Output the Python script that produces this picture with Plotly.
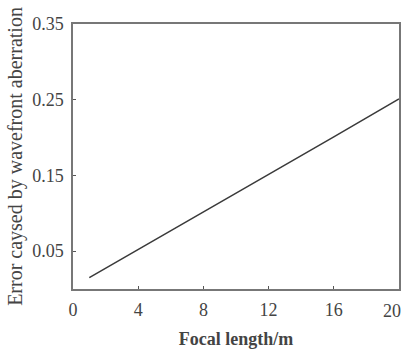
import plotly.graph_objects as go

focal_length = [1, 4, 8, 12, 16, 20]
error = [0.015, 0.052, 0.102, 0.151, 0.201, 0.251]
x_ticks = [0, 4, 8, 12, 16, 20]
x_ticktext = ["0", "4", "8", "12", "16", ""]
last_x_label = "20"
y_ticks = [0.05, 0.15, 0.25, 0.35]

fig = go.Figure()
fig.add_trace(go.Scatter(x=focal_length, y=error, mode="lines",
                         line=dict(color="#3a3a3a", width=1.5), showlegend=False))

fam = "Liberation Serif, Times New Roman, serif"
tick_font = dict(family=fam, size=18, color="#444444")
fig.add_annotation(text=last_x_label, xref="paper", yref="paper", x=1, y=0,
                   xanchor="right", yanchor="top", xshift=4, yshift=-10,
                   showarrow=False, font=tick_font)
fig.update_layout(
    width=403, height=349,
    margin=dict(l=73, r=4, t=24, b=60),
    paper_bgcolor="white", plot_bgcolor="white",
    font=tick_font,
    xaxis=dict(range=[0, 20], tickvals=x_ticks, ticktext=x_ticktext, ticks="inside", ticklen=3,
               tickcolor="#555", showgrid=False, zeroline=False,
               showline=True, linecolor="#777", linewidth=1.5, mirror=True,
               tickfont=tick_font, automargin=False,
               ticklabelstandoff=4,
               title=dict(text="<b>Focal length/m</b>",
                          font=dict(family=fam, size=18, color="#444"), standoff=14)),
    yaxis=dict(range=[0, 0.35], tickvals=y_ticks, tickformat=".2f", ticks="inside",
               ticklen=3, tickcolor="#555", showgrid=False, zeroline=False,
               showline=True, linecolor="#777", linewidth=1.5, mirror=True,
               tickfont=tick_font, automargin=False, ticklabelstandoff=4,
               title=dict(text="Error caysed by wavefront aberration",
                          font=dict(family=fam, size=20, color="#444"), standoff=4)),
)
fig.write_html("out.html")
